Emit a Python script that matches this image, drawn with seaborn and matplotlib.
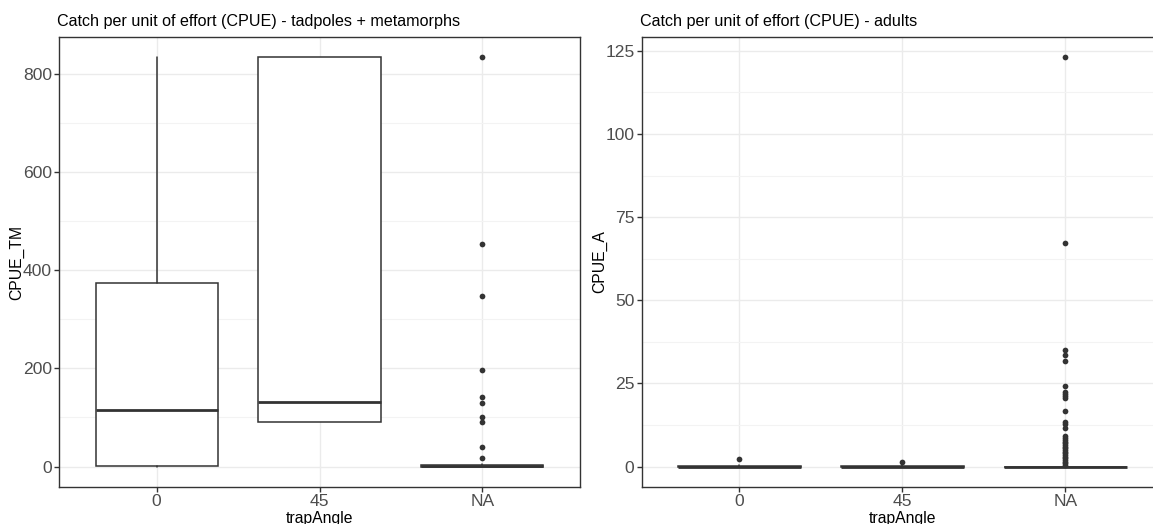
import matplotlib
matplotlib.use("Agg")
import matplotlib.pyplot as plt
import seaborn as sns
import pandas as pd
import numpy as np

# ---------------- data ----------------
categories = ["0", "45", "NA"]

# tadpoles + metamorphs (CPUE_TM) box statistics
tm_whislo = [0, 90, 0]
tm_q1 = [1, 90, 0]
tm_med = [116, 131, 0.5]
tm_q3 = [374, 833, 3]
tm_whishi = [833, 833, 6]
tm_out_0 = []
tm_out_45 = []
tm_out_na = [833, 453, 347, 196, 141, 130, 100, 90, 39, 18]

# adults (CPUE_A) box statistics
a_whislo = [0, 0, 0]
a_q1 = [0, 0, 0]
a_med = [0, 0, 0]
a_q3 = [0.3, 0.3, 0]
a_whishi = [0.5, 0.5, 0]
a_out_0 = [2.3]
a_out_45 = [1.4]
a_out_na = [123, 67.2, 35, 33.5, 31.6, 24.2, 22.4, 21.8, 21.2, 20.5, 16.6,
            13.5, 12.7, 11.5, 9.2, 8.6, 8.0, 7.5, 7.0, 6.5, 6.0, 5.5, 5.0,
            4.5, 4.0, 3.5, 3.0, 2.5, 2.0, 1.5, 1.0, 0.6]

titles = ["Catch per unit of effort (CPUE) - tadpoles + metamorphs",
          "Catch per unit of effort (CPUE) - adults"]
ylabels = ["CPUE_TM", "CPUE_A"]
xlabel = "trapAngle"
tm_ticks = [0, 200, 400, 600, 800]
a_ticks = [0, 25, 50, 75, 100, 125]

# ---------------- style ----------------
sns.set_theme(style="white")
plt.rcParams['font.family'] = ['Liberation Sans', 'DejaVu Sans']

GREY20 = "#333333"
GREY30 = "#4D4D4D"
GRID = "#EBEBEB"

fig = plt.figure(figsize=(11.53, 5.24), dpi=100)
W, H = 1153, 524
top, bottom = 37, 487
axL = fig.add_axes([59 / W, 1 - bottom / H, 521 / W, (bottom - top) / H])
axR = fig.add_axes([641.7 / W, 1 - bottom / H, 521.5 / W, (bottom - top) / H])


def draw(ax, whislo, q1, med, q3, whishi, outs, ticks, minor, title, ylabel,
         ylab_x):
    stats = []
    for i in range(len(categories)):
        stats.append(dict(whislo=whislo[i], q1=q1[i], med=med[i], q3=q3[i],
                          whishi=whishi[i], fliers=[]))
    pos = np.arange(len(categories))
    ax.bxp(stats, positions=pos, widths=0.75, showfliers=False, showcaps=False,
           patch_artist=True, manage_ticks=False,
           boxprops=dict(facecolor="white", edgecolor=GREY20, linewidth=1.1),
           whiskerprops=dict(color=GREY20, linewidth=1.1),
           medianprops=dict(color=GREY20, linewidth=2.0, solid_capstyle="butt"),
           zorder=3)
    rows = []
    for i, o in enumerate(outs):
        for v in o:
            rows.append((i, v))
    df = pd.DataFrame(rows, columns=["x", "y"])
    if len(df):
        sns.scatterplot(data=df, x="x", y="y", ax=ax, color=GREY20, s=17,
                        linewidth=0, zorder=4)
    # limits like ggplot expansion
    allv = list(whislo) + list(whishi) + [v for o in outs for v in o]
    lo, hi = min(allv), max(allv)
    rng = hi - lo
    ax.set_ylim(lo - 0.05 * rng, hi + 0.05 * rng)
    ax.set_xlim(-0.6, len(categories) - 0.4)
    ax.set_xticks(pos)
    ax.set_xticklabels(categories)
    ax.set_yticks(ticks)
    ax.set_yticklabels([str(t) for t in ticks])
    ax.set_yticks(minor, minor=True)
    ax.grid(True, which="major", color=GRID, linewidth=1.0, zorder=0)
    ax.grid(True, which="minor", axis="y", color="#F3F3F3", linewidth=0.8, zorder=0)
    ax.set_axisbelow(True)
    for s in ax.spines.values():
        s.set_color(GREY20)
        s.set_linewidth(1.0)
        s.set_visible(True)
    ax.tick_params(axis="both", which="major", length=3.7, width=1.0,
                   color=GREY20, labelcolor=GREY30, labelsize=12.6, pad=1.5,
                   bottom=True, left=True)
    ax.tick_params(axis="both", which="minor", length=0)
    ax.set_xlabel(xlabel, fontsize=11.3, color="black")
    ax.set_ylabel(ylabel, fontsize=11.3, color="black")
    ax.xaxis.set_label_coords(0.5, (487 - 518) / 450, transform=ax.transAxes)
    ax.xaxis.label.set_va("center")
    ax.yaxis.set_label_coords(ylab_x, 0.5, transform=ax.transAxes)
    ax.yaxis.label.set_va("center")
    ax.set_title(title, fontsize=11.6, color="black", loc="left", pad=8,
                 x=-0.004)


draw(axL, tm_whislo, tm_q1, tm_med, tm_q3, tm_whishi,
     [tm_out_0, tm_out_45, tm_out_na], tm_ticks, [100, 300, 500, 700],
     titles[0], ylabels[0], (16.7 - 59) / 521)
draw(axR, a_whislo, a_q1, a_med, a_q3, a_whishi,
     [a_out_0, a_out_45, a_out_na], a_ticks, [12.5, 37.5, 62.5, 87.5, 112.5],
     titles[1], ylabels[1], (600 - 641.7) / 521.5)

fig.savefig("out.png", dpi=100)
